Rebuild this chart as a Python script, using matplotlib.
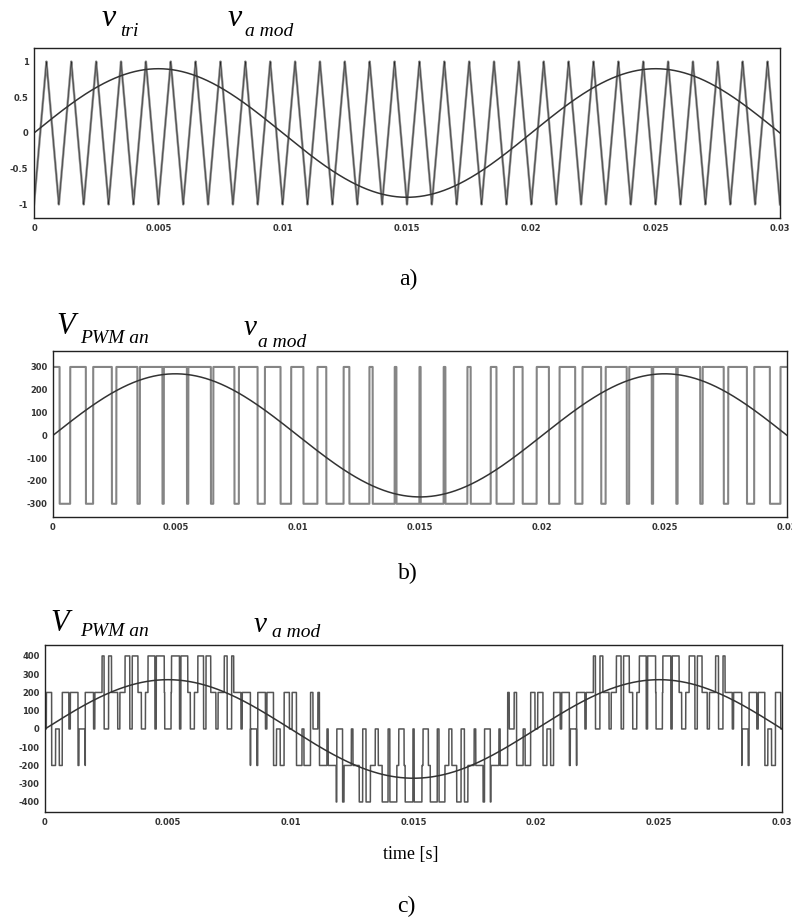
import numpy as np
import matplotlib
matplotlib.use("Agg")
import matplotlib.pyplot as plt

# parameters of the sinusoidal PWM simulation shown in the figure
f_mod = 50.0          # modulating frequency [Hz]
f_carrier = 1000.0    # carrier (triangle) frequency [Hz]
m_a = 0.9             # amplitude modulation index
V_dc = 600.0          # dc link voltage [V]
t_end = 0.03

xticks = [0, 0.005, 0.01, 0.015, 0.02, 0.025, 0.03]
xtick_labels = ["0", "0.005", "0.01", "0.015", "0.02", "0.025", "0.03"]
yticks_a = [-1, -0.5, 0, 0.5, 1]
ytick_labels_a = ["-1", "-0.5", "0", "0.5", "1"]
yticks_b = [-300, -200, -100, 0, 100, 200, 300]
yticks_c = [-400, -300, -200, -100, 0, 100, 200, 300, 400]

# signals
t = np.linspace(0, t_end, 60001)
phase = (t * f_carrier) % 1.0
v_tri = np.where(phase < 0.5, -1 + 4 * phase, 3 - 4 * phase)
v_a = m_a * np.sin(2 * np.pi * f_mod * t)
v_b = m_a * np.sin(2 * np.pi * f_mod * t - 2 * np.pi / 3)
v_c = m_a * np.sin(2 * np.pi * f_mod * t + 2 * np.pi / 3)

s_a = (v_a > v_tri).astype(float)
s_b = (v_b > v_tri).astype(float)
s_c = (v_c > v_tri).astype(float)

v_pwm_b = (2 * s_a - 1) * V_dc / 2
v_pwm_c = (2 * s_a - s_b - s_c) / 3 * V_dc
v_mod_volt = v_a * V_dc / 2

W, H = 792, 919
fig = plt.figure(figsize=(W / 100, H / 100), dpi=100)
fig.patch.set_facecolor("white")


def box(l, t_, r, b):
    return [l / W, 1 - b / H, (r - l) / W, (b - t_) / H]


def ftext(x, y, s, **kw):
    fig.text(x / W, 1 - y / H, s, **kw)


def style(ax, yt, ytl):
    ax.set_xlim(0, t_end)
    ax.set_xticks(xticks)
    ax.set_xticklabels(xtick_labels)
    ax.set_yticks(yt)
    ax.set_yticklabels(ytl)
    ax.tick_params(length=0, pad=4, labelsize=6, labelcolor="#333333")
    for lab in ax.get_xticklabels() + ax.get_yticklabels():
        lab.set_fontfamily("DejaVu Sans")
        lab.set_fontweight("bold")
    for sp in ax.spines.values():
        sp.set_linewidth(1.0)
        sp.set_color("#222222")


serif = "Liberation Serif"

# a) carrier and modulating signal
ax1 = fig.add_axes(box(34, 48, 780, 218))
ax1.plot(t, v_tri, color="#8a8a8a", lw=1.7)
ax1.plot(t, v_tri, color="#222222", lw=0.35)
ax1.plot(t, v_a, color="#333333", lw=1.1)
ax1.set_ylim(-1.19, 1.19)
style(ax1, yticks_a, ytick_labels_a)

ftext(102, 26, "v", fontsize=23, family=serif, style="italic")
ftext(120, 36, "tri", fontsize=14, family=serif, style="italic")
ftext(228, 26, "v", fontsize=23, family=serif, style="italic")
ftext(245, 36, "a mod", fontsize=14, family=serif, style="italic")
ftext(408, 279, "a)", fontsize=17, family=serif, ha="center", va="center")

# b) bipolar PWM output
ax2 = fig.add_axes(box(53, 351, 787, 517))
ax2.plot(t, v_pwm_b, color="#858585", lw=1.5)
ax2.plot(t, v_mod_volt, color="#333333", lw=1.1)
ax2.set_ylim(-358, 370)
style(ax2, yticks_b, [str(v) for v in yticks_b])

ftext(56, 334, "V", fontsize=22, family=serif, style="italic")
ftext(80, 343, "PWM an", fontsize=14, family=serif, style="italic")
ftext(244, 335, "v", fontsize=21, family=serif, style="italic")
ftext(258, 347, "a mod", fontsize=14, family=serif, style="italic")
ftext(408, 573, "b)", fontsize=17, family=serif, ha="center", va="center")

# c) phase-to-neutral voltage of three-phase inverter
ax3 = fig.add_axes(box(45, 645, 782, 812))
ax3.plot(t, v_pwm_c, color="#555555", lw=1.1)
ax3.plot(t, v_mod_volt, color="#333333", lw=1.1)
ax3.set_ylim(-455, 460)
style(ax3, yticks_c, [str(v) for v in yticks_c])

ftext(50, 631, "V", fontsize=22, family=serif, style="italic")
ftext(80, 636, "PWM an", fontsize=14, family=serif, style="italic")
ftext(254, 632, "v", fontsize=21, family=serif, style="italic")
ftext(272, 637, "a mod", fontsize=14, family=serif, style="italic")
ftext(411, 854, "time [s]", fontsize=13, family=serif, ha="center", va="center")
ftext(406, 906, "c)", fontsize=17, family=serif, ha="center", va="center")

fig.savefig("out.png", dpi=100, facecolor="white")
